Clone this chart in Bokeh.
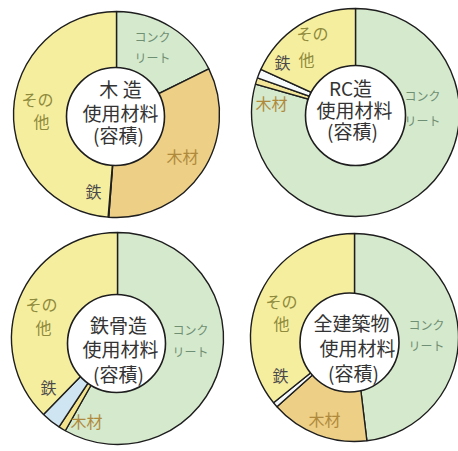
import math
from bokeh.plotting import figure
from bokeh.models import Range1d
from bokeh.core.properties import value
from bokeh.embed import file_html
from bokeh.resources import INLINE

# ---- data (percent of volume) ----
structures = ["木 造", "RC造", "鉄骨造", "全建築物"]
subtitle = ["使用材料", "(容積)"]
materials = ["コンクリート", "木材", "鉄", "その他"]
concrete = [17.7, 79.4, 58.2, 48.1]
wood = [33.5, 1.0, 1.1, 15.3]
iron = [0.1, 1.4, 3.0, 0.8]
other = [48.7, 18.2, 37.7, 35.8]

# ---- layout (image pixel coordinates, y downward) ----
W, H = 458, 451
centers = [(116, 114), (355, 112), (117, 338), (354, 337)]
outer_r = [103, 104, 106, 104]
inner_c = [(115, 116), (355, 115), (116, 343), (349, 342)]
inner_r = [49, 50, 49, 49.5]
title_pos = [[(120, 88), (120, 112), (118, 134)],
             [(350, 87), (354, 109), (352, 130)],
             [(118, 324), (120, 348), (118, 373)],
             [(351, 322), (357, 347), (353, 372)]]
label_pos = [
    {"c1": (152, 36), "c2": (152, 57), "w": (182, 155), "o1": (37, 98), "o2": (41, 120), "i": (93, 190)},
    {"c1": (422, 95), "c2": (422, 120), "w": (271, 102), "o1": (312, 32), "o2": (306, 58), "i": (282, 61)},
    {"c1": (190, 329), "c2": (190, 351), "w": (86, 420), "o1": (41, 303), "o2": (43, 326), "i": (48, 386)},
    {"c1": (426, 324), "c2": (426, 345), "w": (324, 418), "o1": (281, 300), "o2": (281, 322), "i": (280, 374)},
]
concrete_col = "#d5e9cd"
other_col = "#f6ee9f"
wood_cols = ["#edcf86", "#f3e597", "#f2e38c", "#edcf86"]
iron_cols = ["#eef5f8", "#f7fafb", "#cfe5f1", "#f7fafb"]
edge = "#1e1e1e"
FONT = value("Noto Sans CJK JP")

p = figure(width=W, height=H, x_range=Range1d(0, W), y_range=Range1d(0, H),
           output_backend="svg", toolbar_location=None, min_border=0)
p.xaxis.visible = False
p.yaxis.visible = False
p.xgrid.visible = False
p.ygrid.visible = False
p.outline_line_color = None
p.background_fill_color = "white"


def Y(y):
    return H - y


for k in range(4):
    vals = [concrete[k], wood[k], iron[k], other[k]]
    cols = [concrete_col, wood_cols[k], iron_cols[k], other_col]
    cx, cy = centers[k]
    cum = 0.0
    xs, ys, rs, sa, ea, fc = [], [], [], [], [], []
    for v, c in zip(vals, cols):
        t0 = cum / 100.0 * 2 * math.pi
        cum += v
        t1 = cum / 100.0 * 2 * math.pi
        xs.append(cx); ys.append(Y(cy)); rs.append(outer_r[k])
        sa.append(math.pi / 2 - t0); ea.append(math.pi / 2 - t1); fc.append(c)
    p.wedge(x=xs, y=ys, radius=rs, start_angle=sa, end_angle=ea, direction="clock",
            fill_color=fc, line_color=edge, line_width=1.4)
    ix, iy = inner_c[k]
    p.circle(x=[ix], y=[Y(iy)], radius=[inner_r[k]], fill_color="white",
             line_color=edge, line_width=1.6)

    # centre titles
    lines = [structures[k]] + subtitle
    tx = [q[0] for q in title_pos[k]]
    ty = [Y(q[1]) for q in title_pos[k]]
    p.text(x=tx, y=ty, text=lines, text_font=FONT, text_font_size="19px",
           text_color="#333333", text_align="center", text_baseline="middle")

    lp = label_pos[k]
    specs = [
        ("c1", materials[0][:3], "#6f8f74", "12px"),
        ("c2", materials[0][3:], "#6f8f74", "12px"),
        ("w", materials[1], "#b08a3c", "16px"),
        ("o1", materials[3][:2], "#8e8a3c", "16px"),
        ("o2", materials[3][2:], "#8e8a3c", "16px"),
        ("i", materials[2], "#4a4a4a", "16px"),
    ]
    for key, txt, col, fs in specs:
        x0, y0 = lp[key]
        p.text(x=[x0], y=[Y(y0)], text=[txt], text_font=FONT, text_font_size=fs,
               text_color=col, text_align="center", text_baseline="middle")

open("out.html", "w").write(file_html(p, INLINE))
